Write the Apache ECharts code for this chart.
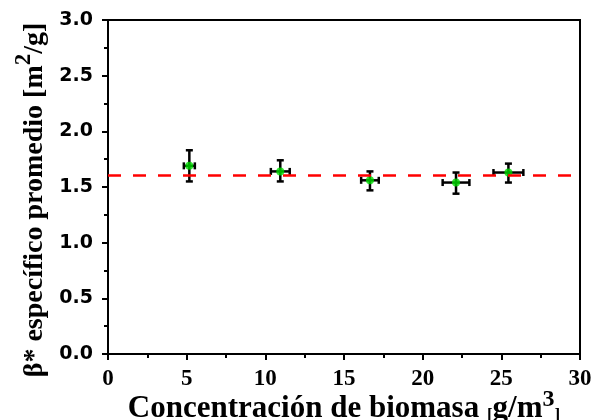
<!DOCTYPE html>
<html><head><meta charset="utf-8">
<script src="https://cdn.jsdelivr.net/npm/echarts@6/dist/echarts.min.js"></script>
<style>html,body{margin:0;padding:0;background:#fff}#c{width:592px;height:420px}</style>
</head><body><div id="c"></div>
<script>
const concentration = [5.17, 10.95, 16.65, 22.12, 25.45];
const betaMean = [1.69, 1.64, 1.56, 1.54, 1.63];
const yErrLow = [1.55, 1.55, 1.47, 1.44, 1.54];
const yErrHigh = [1.83, 1.74, 1.64, 1.63, 1.71];
const xErr = [0.35, 0.6, 0.56, 0.85, 0.95];
const meanLine = 1.61;
const xTicks = [0, 5, 10, 15, 20, 25, 30];
const yTicks = [0.0, 0.5, 1.0, 1.5, 2.0, 2.5, 3.0];

const errData = concentration.map((x, i) => [x, betaMean[i], yErrLow[i], yErrHigh[i], xErr[i]]);

const chart = echarts.init(document.getElementById('c'), null, {renderer: 'canvas'});
const serif = '"Liberation Serif","Times New Roman",serif';
const sans = '"DejaVu Sans",Arial,sans-serif';
chart.setOption({
  animation: false,
  backgroundColor: '#fff',
  grid: {left: 108, right: 12, top: 20, bottom: 66, containLabel: false, outerBoundsMode: 'none',
    show: true, borderColor: '#000', borderWidth: 2},
  xAxis: {
    type: 'value', min: xTicks[0], max: xTicks[xTicks.length - 1], interval: 5,
    axisLine: {show: true, lineStyle: {color: '#000', width: 2}},
    axisTick: {show: true, inside: false, length: 6, lineStyle: {color: '#000', width: 2}},
    minorTick: {show: true, splitNumber: 2, length: 4, lineStyle: {color: '#000', width: 2}},
    splitLine: {show: false},
    axisLabel: {color: '#000', fontFamily: serif, fontWeight: 'bold', fontSize: 23, margin: 14},
    name: '{a|Concentración de biomasa }{b|[}{a|g/m}{c|3}{b|]}',
    nameLocation: 'middle', nameGap: 34, nameMoveOverlap: false,
    nameTextStyle: {
      rich: {
        a: {fontFamily: serif, fontWeight: 'bold', fontSize: 31, lineHeight: 36, color: '#000', verticalAlign: 'bottom'},
        b: {fontFamily: serif, fontWeight: 'bold', fontSize: 17, lineHeight: 20, color: '#000', verticalAlign: 'bottom'},
        c: {fontFamily: serif, fontWeight: 'bold', fontSize: 24, lineHeight: 24, color: '#000', verticalAlign: 'top'}
      }
    }
  },
  yAxis: {
    type: 'value', min: yTicks[0], max: yTicks[yTicks.length - 1], interval: 0.5,
    axisLine: {show: true, lineStyle: {color: '#000', width: 2}},
    axisTick: {show: true, inside: false, length: 6, lineStyle: {color: '#000', width: 2}},
    minorTick: {show: true, splitNumber: 2, length: 4, lineStyle: {color: '#000', width: 2}},
    splitLine: {show: false},
    axisLabel: {color: '#000', fontFamily: sans, fontWeight: 'bold', fontSize: 19, margin: 15,
      formatter: v => v.toFixed(1)},
    name: '{a|β* específico promedio [m}{c|2}{a|/g]}',
    nameLocation: 'middle', nameGap: 58, nameRotate: 90,
    nameTextStyle: {
      padding: [0, 26, 0, 0],
      rich: {
        a: {fontFamily: serif, fontWeight: 'bold', fontSize: 28, lineHeight: 36, color: '#000', verticalAlign: 'bottom'},
        c: {fontFamily: serif, fontWeight: 'bold', fontSize: 23, lineHeight: 24, color: '#000', verticalAlign: 'top'}
      }
    }
  },
  series: [
    {
      type: 'custom',
      data: errData,
      z: 3,
      renderItem: function (params, api) {
        const x = api.value(0), y = api.value(1), lo = api.value(2), hi = api.value(3), xe = api.value(4);
        const pTop = api.coord([x, hi]);
        const pBot = api.coord([x, lo]);
        const pL = api.coord([x - xe, y]);
        const pR = api.coord([x + xe, y]);
        const cap = 3.5;
        const st = {stroke: '#000', lineWidth: 2.5};
        return {
          type: 'group',
          children: [
            {type: 'line', shape: {x1: pTop[0], y1: pTop[1], x2: pBot[0], y2: pBot[1]}, style: st},
            {type: 'line', shape: {x1: pTop[0] - cap, y1: pTop[1], x2: pTop[0] + cap, y2: pTop[1]}, style: st},
            {type: 'line', shape: {x1: pBot[0] - cap, y1: pBot[1], x2: pBot[0] + cap, y2: pBot[1]}, style: st},
            {type: 'line', shape: {x1: pL[0], y1: pL[1], x2: pR[0], y2: pR[1]}, style: st},
            {type: 'line', shape: {x1: pL[0], y1: pL[1] - cap, x2: pL[0], y2: pL[1] + cap}, style: st},
            {type: 'line', shape: {x1: pR[0], y1: pR[1] - cap, x2: pR[0], y2: pR[1] + cap}, style: st}
          ]
        };
      }
    },
    {
      type: 'scatter',
      data: concentration.map((x, i) => [x, betaMean[i]]),
      symbol: 'circle', symbolSize: 8,
      itemStyle: {color: '#00dd00'},
      z: 4,
      markLine: {
        silent: true, symbol: ['none', 'none'],
        label: {show: false},
        lineStyle: {color: '#ff0000', width: 2.5, type: [13, 12]},
        data: [{yAxis: meanLine}]
      }
    }
  ]
});
</script>
</body></html>
